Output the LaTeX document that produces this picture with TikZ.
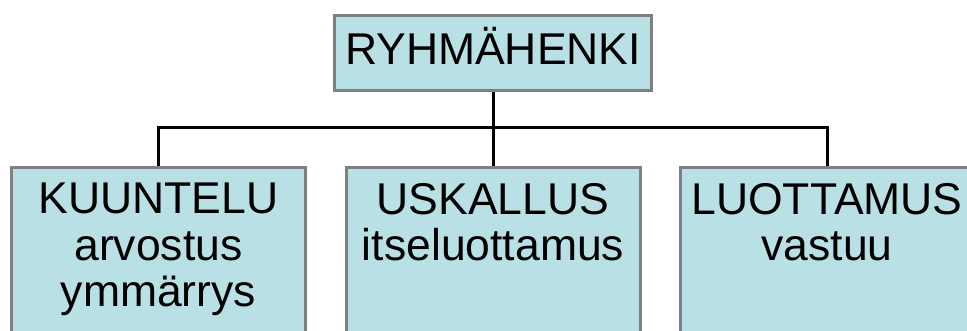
\documentclass[tikz,border=0pt]{standalone}
\usepackage{fontspec}
\setmainfont{Liberation Sans}
\definecolor{boxfill}{RGB}{185,224,228}
\definecolor{boxline}{RGB}{128,128,128}
\begin{document}
\begin{tikzpicture}[x=1pt,y=-1pt,
  box/.style={draw=boxline, fill=boxfill, line width=3pt, rectangle, inner sep=0pt},
  lowbox/.style={box, minimum width=294pt, minimum height=220pt, anchor=north},
  lbl/.style={font=\fontsize{44.5}{46.5}\selectfont, align=center, inner sep=0pt, anchor=north},
  conn/.style={draw=black, line width=3pt}]
\useasboundingbox (0,0) rectangle (967,331);
\clip (0,0) rectangle (967,331);
\node[box, minimum width=317pt, minimum height=75pt, font=\fontsize{44.5}{46.5}\selectfont,
      text height=31.5pt, text depth=8pt] (top) at (493,53) {RYHMÄHENKI};
\node[lowbox] (k) at (158.5,166.5) {};
\node[lowbox] (u) at (493,166.5) {};
\node[lowbox] (l) at (827,166.5) {};
\coordinate (j) at (493,128);
\draw[conn] (top.south) -- (u.north);
\draw[conn] (k.north) -- (k.north |- j) -- (l.north |- j) -- (l.north);
\node[lbl] (kt) at ([yshift=-16.5pt]k.north) {KUUNTELU\\arvostus\\ymmärrys};
\node[lbl] (ut) at ([yshift=-16.5pt]u.north) {USKALLUS\\itseluottamus};
\node[lbl] (lt) at ([yshift=-16.5pt]l.north) {LUOTTAMUS\\vastuu};
\end{tikzpicture}
\end{document}
